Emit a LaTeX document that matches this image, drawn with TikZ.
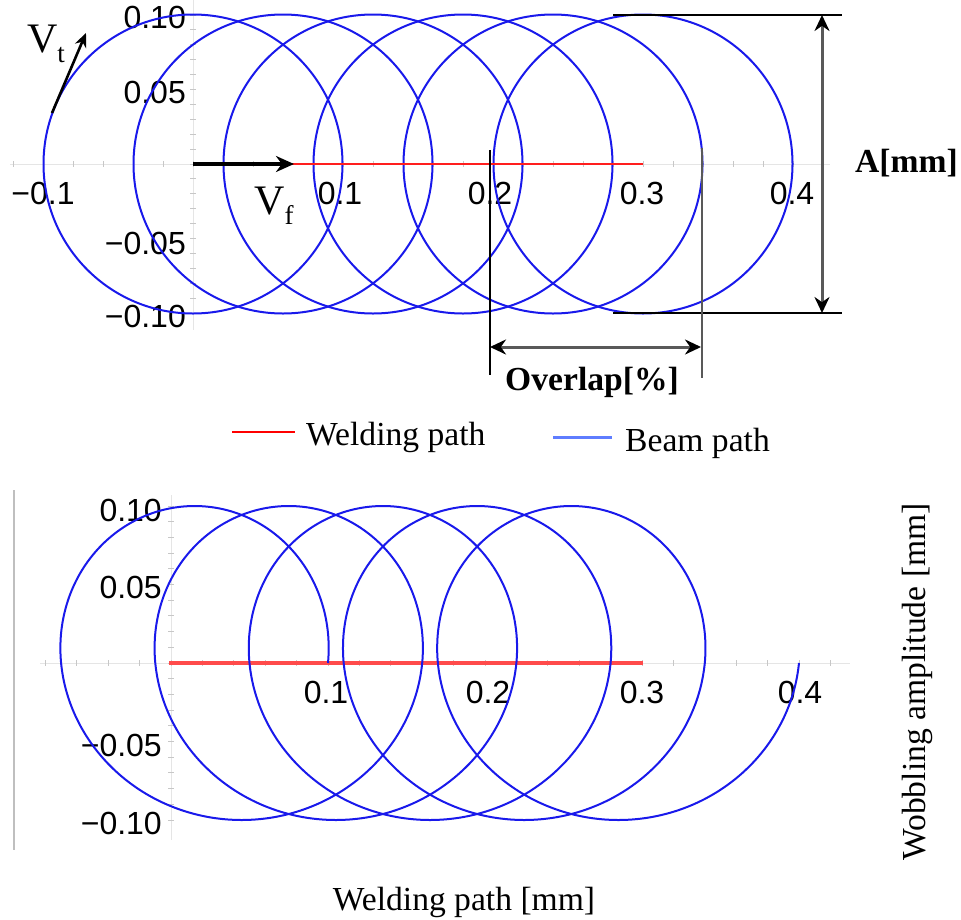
\documentclass[tikz,border=0pt]{standalone}
\usepackage{fontspec}
\setmainfont{Liberation Serif}
\newfontfamily\ticksf{Liberation Sans}
\usetikzlibrary{arrows.meta}
\definecolor{beamblue}{RGB}{25,25,235}
\definecolor{legblue}{RGB}{95,125,255}
\definecolor{weldred}{RGB}{255,30,30}
\begin{document}
\begin{tikzpicture}[x=1pt,y=-1pt,
  beam/.style={draw=beamblue, line width=2pt},
  weld/.style={draw=weldred, line width=2.6pt},
  axisln/.style={draw=black!10, line width=1pt},
  tickln/.style={draw=black!22, line width=0.9pt},
  ticklab/.style={font=\ticksf\fontsize{32}{32}\selectfont, inner sep=0pt},
  lbl/.style={font=\fontsize{33.6}{36}\selectfont, inner sep=0pt},
  blbl/.style={font=\bfseries\fontsize{33.6}{36}\selectfont, inner sep=0pt},
  dimln/.style={draw=black, line width=2pt},
  dimarr/.style={draw=black!65, line width=3pt, {Stealth[length=16pt,width=15pt,black]}-{Stealth[length=16pt,width=15pt,black]}},
  velarr/.style={draw=black, line width=3.2pt, -{Stealth[length=18pt,width=16pt,black]}},
]
\useasboundingbox (0,0) rectangle (961,919);

% ---------------- top plot ----------------
% axes
\draw[axisln] (10,164) -- (830,164);
\draw[axisln] (193,0) -- (193,330);
\foreach \i in {-6,...,21} \draw[tickln] ({193+30*\i},161) -- ({193+30*\i},167);
\foreach \j in {-10,...,10} \draw[tickln] (190,{164+14.9*\j}) -- (196,{164+14.9*\j});
% tick labels
\node[ticklab] (tx1) at (43,193) {−0.1};
\node[ticklab] (tx2) at (340,193) {0.1};
\node[ticklab] (tx3) at (490,193) {0.2};
\node[ticklab] (tx4) at (642,193) {0.3};
\node[ticklab] (tx5) at (792,193) {0.4};
\node[ticklab, anchor=east] (ty1) at (186,17) {0.10};
\node[ticklab, anchor=east] (ty2) at (186,92) {0.05};
\node[ticklab, anchor=east] (ty3) at (186,243) {−0.05};
\node[ticklab, anchor=east] (ty4) at (186,316) {−0.10};
% beam circles
\foreach \k in {0,...,5} \draw[beam] ({193+90*\k},164) circle[radius=149.5pt];
% welding path
\coordinate (w0) at (193,164);
\coordinate (w1) at (643,164);
\draw[weld] (w0) -- (w1);
% velocity arrows
\coordinate (vf0) at (193,164);
\coordinate (vf1) at (294,164);
\draw[velarr] (vf0) -- (vf1);
\coordinate (vt0) at (52,113);
\coordinate (vt1) at (86,33);
\draw[draw=black, line width=2.6pt, -{Stealth[length=14pt,width=12pt,black]}] (vt0) -- (vt1);
\node[inner sep=0pt] (vt) at (46,44) {\fontsize{42}{42}\selectfont V\raisebox{-10pt}{\fontsize{27}{27}\selectfont t}};
\node[inner sep=0pt] (vf) at (274,206) {\fontsize{42}{42}\selectfont V\raisebox{-10pt}{\fontsize{27}{27}\selectfont f}};
% A dimension
\coordinate (a1) at (613,15);
\coordinate (a2) at (842,15);
\coordinate (a3) at (613,313);
\coordinate (a4) at (842,313);
\draw[dimln] (a1) -- (a2);
\draw[dimln] (a3) -- (a4);
\coordinate (at) at (822,15);
\coordinate (ab) at (822,313);
\draw[dimarr] (at) -- (ab);
\node[blbl, anchor=west] (A) at (855,163) {A[mm]};
% overlap dimension
\coordinate (o1) at (490,150);
\coordinate (o2) at (490,375);
\coordinate (o3) at (702,148);
\coordinate (o4) at (702,378);
\draw[draw=black, line width=2pt] (o1) -- (o2);
\draw[draw=black!65, line width=2.6pt] (o3) -- (o4);
\coordinate (ol) at (490,347);
\coordinate (or) at (701,347);
\draw[dimarr] (ol) -- (or);
\node[blbl] (ov) at (592,382) {Overlap[\%]};

% ---------------- legend ----------------
\coordinate (lr0) at (232,432);
\coordinate (lr1) at (295,432);
\draw[draw=red, line width=2pt] (lr0) -- (lr1);
\node[lbl, anchor=west] (lw) at (306,437) {Welding path};
\coordinate (lb0) at (553,437);
\coordinate (lb1) at (612,437);
\draw[draw=legblue, line width=3pt] (lb0) -- (lb1);
\node[lbl, anchor=west] (lbt) at (625,443) {Beam path};

% ---------------- bottom plot ----------------
\draw[draw=black!25, line width=1.5pt] (14,490) -- (14,850);
\draw[axisln] (40,663) -- (850,663);
\draw[axisln] (171,495) -- (171,840);
\foreach \i in {-4,...,21} \draw[tickln] ({171+31.4*\i},660) -- ({171+31.4*\i},666);
\foreach \j in {-10,...,10} \draw[tickln] (168,{663+15.7*\j}) -- (174,{663+15.7*\j});
\node[ticklab] (bx1) at (326,692) {0.1};
\node[ticklab] (bx2) at (488,692) {0.2};
\node[ticklab] (bx3) at (642,692) {0.3};
\node[ticklab] (bx4) at (800,692) {0.4};
\node[ticklab, anchor=east] (by1) at (162,510) {0.10};
\node[ticklab, anchor=east] (by2) at (162,587) {0.05};
\node[ticklab, anchor=east] (by3) at (162,745) {−0.05};
\node[ticklab, anchor=east] (by4) at (162,823) {−0.10};
\coordinate (bw0) at (169,663);
\coordinate (bw1) at (643,663);
\draw[draw=weldred!80, line width=4pt] (bw0) -- (bw1);
\draw[beam, smooth, variable=\t, domain=0:1800, samples=721]
  plot ({171+1570*(0.1*cos(\t)+0.06*\t/360)}, {663-157*sin(\t)});
\node[lbl, anchor=base] (xl) at (464,910) {Welding path [mm]};
\node[lbl, rotate=90] (yl) at (917,682) {Wobbling amplitude [mm]};
\end{tikzpicture}
\end{document}
